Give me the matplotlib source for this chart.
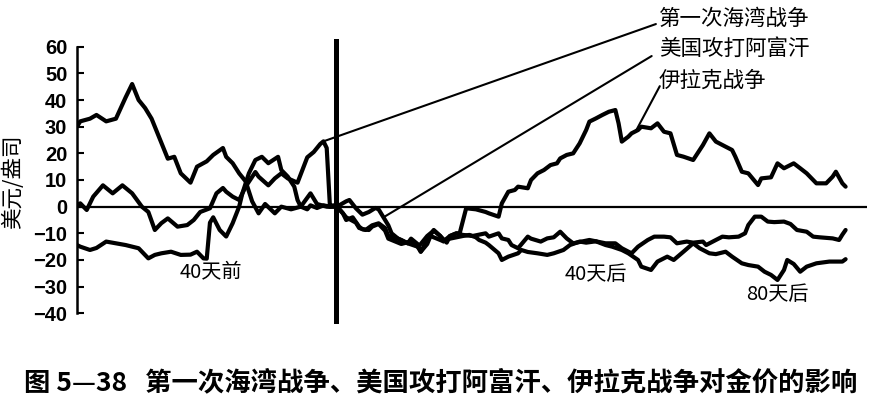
import matplotlib
matplotlib.use('Agg')
import numpy as np
import matplotlib.pyplot as plt

plt.rcParams['font.family'] = ['Noto Sans CJK SC', 'DejaVu Sans']

# days relative to the start of each war, price change in usd/oz
# iraq war (2003)
iraq_before_days = [-80,-79,-76,-74,-71,-68,-65,-63,-61,-59,-57,-54,-52,-50,-48,-45,-43,-40,-38,-35,-34,-32,-30,-28,-26,-24,-22,-19,-17,-14,-11,-8,-6,-3,0]
iraq_before_vals = [30,32,33,34.4,32,33,41,46,40,37,33,24,18,18.7,12.5,9,15,17,19.4,22,18.7,16.3,12.5,9.5,2,-2.5,1,-2.5,0,-1,0,5,1,0,0]
iraq_after_days = [0,1,3,6,7,9,11,13,15,16,19,22,25,26,28,30,32,33,35,37,38,40,43,46,47,50,51,53,55,56,59,60,62,64,66,68,69,71,73,75,77,78,80,82,84,86,87,88,90,91,93,94,97,99,101,103,105,107,110,113,115,117,120,122,123,125,127,130,131,134,136,138,141,143,145,147,148,151,153,154,156,157]
iraq_after_vals = [0,-1,-4,-6,-8,-8.75,-7,-6.25,-8,-11,-12,-13.75,-15,-16.9,-12.5,-8.75,-11,-13,-11,-10,-10,-0.6,-1,-2,-2.5,-3.75,1.25,5.6,6.25,7.5,6.9,10,12.5,13.75,15.6,16.25,18.1,19.4,20,23.75,28.75,31.9,33.1,34.4,35.6,36.25,31.25,24.4,26.25,27.5,28.75,30,29.4,31.25,28.1,27.5,19.4,18.75,17.5,23.1,27.5,24.4,22.5,21.25,18.75,13.1,12.5,8.1,10.6,11,16.25,14.4,16.25,14.4,12.5,10,8.75,8.75,11.25,13.1,8.75,7.5]

# first gulf war (1991)
gulf_before_days = [-80,-79,-77,-75,-72,-69,-66,-63,-60,-58,-56,-54,-52,-49,-46,-44,-42,-39,-37,-35,-34,-32,-30,-28,-25,-24,-21,-19,-17,-15,-12,-9,-7,-5,-4,-3,-2,-1,0]
gulf_before_vals = [0.5,1.25,-1.25,3.75,8,5,8,5,0,-2,-8.75,-6.2,-4.4,-7.5,-6.9,-5,-2,-0.6,5,7,5.6,3.75,2.5,7.5,13,11.25,8,10.6,12.5,10.6,9,18.5,20.5,23.5,24.5,22,0,0.5,0]
gulf_after_days = [0,2,3,5,7,8,10,11,13,15,16,18,20,23,25,26,28,30,32,34,35,37,39,42,44,46,47,50,51,53,54,56,59,60,63,65,67,69,71,73,76,78,80,83,85,88,90,93,94,97,99,102,104,107,110,112,115,117,120,122,125,127,130,132,134,136,138,139,141,143,145,148,152,156,157]
gulf_after_vals = [0,-2.5,-5,-4,-7.5,-8.5,-8.75,-7.5,-6.5,-9,-12,-13,-14,-13,-15,-14,-11,-9,-11,-13.5,-11,-10,-10.6,-11,-10.5,-10,-11.25,-10,-11.9,-12.5,-14.4,-15.6,-11.25,-12,-13.1,-11.9,-11.5,-9.4,-11.9,-13.75,-13,-12.5,-13,-14.4,-15,-16.25,-17.5,-20,-22.5,-23.75,-20.6,-18.75,-20,-16.9,-13.75,-15.6,-17.5,-17.8,-16.9,-18.75,-21.25,-21.9,-22.5,-24.4,-25.6,-27.5,-23.75,-20,-21.5,-24.4,-22.5,-21.25,-20.6,-20.6,-19.7]

# us attack on afghanistan (2001)
afgh_before_days = [-80,-79,-76,-74,-71,-68,-65,-61,-58,-56,-54,-51,-48,-45,-43,-41,-40,-39,-38,-36,-34,-32,-30,-29,-27,-25,-23,-21,-18,-17,-15,-13,-12,-11,-9,-8,-6,-4,-2,0]
afgh_before_vals = [-14.4,-15,-16.25,-15.5,-13.1,-13.75,-14.4,-15.6,-19.4,-18.1,-17.5,-16.9,-18.1,-18,-16.9,-19.4,-19.5,-6,-4,-8.75,-11.2,-6.2,0,5,12.5,17.5,18.7,16.3,18.7,13.75,11.25,7.5,2.5,0,-1,0.5,-0.5,0.5,0,0]
afgh_after_days = [0,1,3,4,6,8,10,12,13,14,16,17,19,20,22,23,25,26,28,29,31,33,35,37,39,41,43,44,46,47,50,51,53,56,57,59,62,65,67,70,72,75,77,80,83,86,88,91,93,96,98,101,103,105,108,110,113,114,117,119,121,124,126,127,129,131,133,135,138,140,142,145,147,149,153,155,156,157]
afgh_after_vals = [0,0.6,2,2.5,-0.6,-3,-2,-0.5,-1,-3,-7,-10,-12,-12.5,-13.75,-12,-14,-16.9,-14,-11,-12,-13,-12,-11.5,-11,-10.6,-11.5,-12.5,-13.5,-14.4,-17.5,-20,-18.75,-17.5,-16.25,-17,-17.5,-18.1,-17.5,-16.25,-14.4,-13.1,-13.5,-13,-13.75,-13.75,-15.6,-17.5,-15,-12.5,-11.25,-11.25,-11.5,-13.75,-13.1,-13.5,-13.1,-14.4,-12.5,-11.25,-11.5,-11.25,-10,-6.9,-3.75,-3.75,-5.6,-5.8,-5.6,-6.5,-8.75,-9.4,-11.25,-11.5,-11.9,-12.5,-10.5,-8.75]

war_names = ['第一次海湾战争', '美国攻打阿富汗', '伊拉克战争']
y_ticks = [-40, -30, -20, -10, 0, 10, 20, 30, 40, 50, 60]

fig = plt.figure(figsize=(8.82, 4.03), dpi=100)
ax = fig.add_axes([0.0873, 0.2226, 0.8957, 0.6615])

lw = 3.0
for d, v in [(iraq_before_days, iraq_before_vals), (iraq_after_days, iraq_after_vals),
             (gulf_before_days, gulf_before_vals), (gulf_after_days, gulf_after_vals),
             (afgh_before_days, afgh_before_vals), (afgh_after_days, afgh_after_vals)]:
    ax.plot(d, v, color='black', lw=lw, solid_joinstyle='round', solid_capstyle='round')

ax.axhline(0, color='black', lw=1.6)
ax.axvline(0, ymin=-0.03, ymax=1.02, color='black', lw=3.6, clip_on=False)

ax.set_xlim(-80, 163.6)
ax.set_ylim(-40, 60)
ax.set_yticks(y_ticks)
for s in ['top', 'right', 'bottom']:
    ax.spines[s].set_visible(False)
ax.spines['left'].set_linewidth(1.8)
ax.set_xticks([])
ax.tick_params(axis='y', direction='in', length=5, width=1.5, pad=7)
for lab in ax.get_yticklabels():
    lab.set_fontfamily(['Liberation Sans', 'DejaVu Sans'])
    lab.set_fontweight('bold')
    lab.set_fontsize(14.5)

fig.text(13 / 882, 0.548, '美元/盎司', rotation=90, ha='center', va='center', fontsize=15.5)

# day labels
ax.text(-38.6, -24.9, '40天前', ha='center', va='center', fontsize=14.5)
ax.text(79.9, -25.6, '40天后', ha='center', va='center', fontsize=14.5)
ax.text(136, -33.1, '80天后', ha='center', va='center', fontsize=14.5)

# war labels with leader lines
label_y = [70.4, 59.1, 47.1]
leader_start = [(98.5, 68.5), (97.2, 56.5), (99.7, 45.2)]
leader_end = [(-4, gulf_before_vals[gulf_before_days.index(-4)]),
              (14.5, np.interp(14.5, afgh_after_days, afgh_after_vals)),
              (92.3, np.interp(92.3, iraq_after_days, iraq_after_vals))]
for name, ly, st, en in zip(war_names, label_y, leader_start, leader_end):
    ax.text(99.4, ly, name, ha='left', va='center', fontsize=15.5, clip_on=False)
    ax.annotate('', xy=en, xytext=st, annotation_clip=False,
                arrowprops=dict(arrowstyle='-', lw=1.5, color='black', shrinkA=0, shrinkB=0))

fig.text(0.5, 1 - 383 / 403, '图 5—38   第一次海湾战争、美国攻打阿富汗、伊拉克战争对金价的影响',
         ha='center', va='center', fontsize=19, fontweight='heavy')

plt.savefig('out.png', dpi=100)
